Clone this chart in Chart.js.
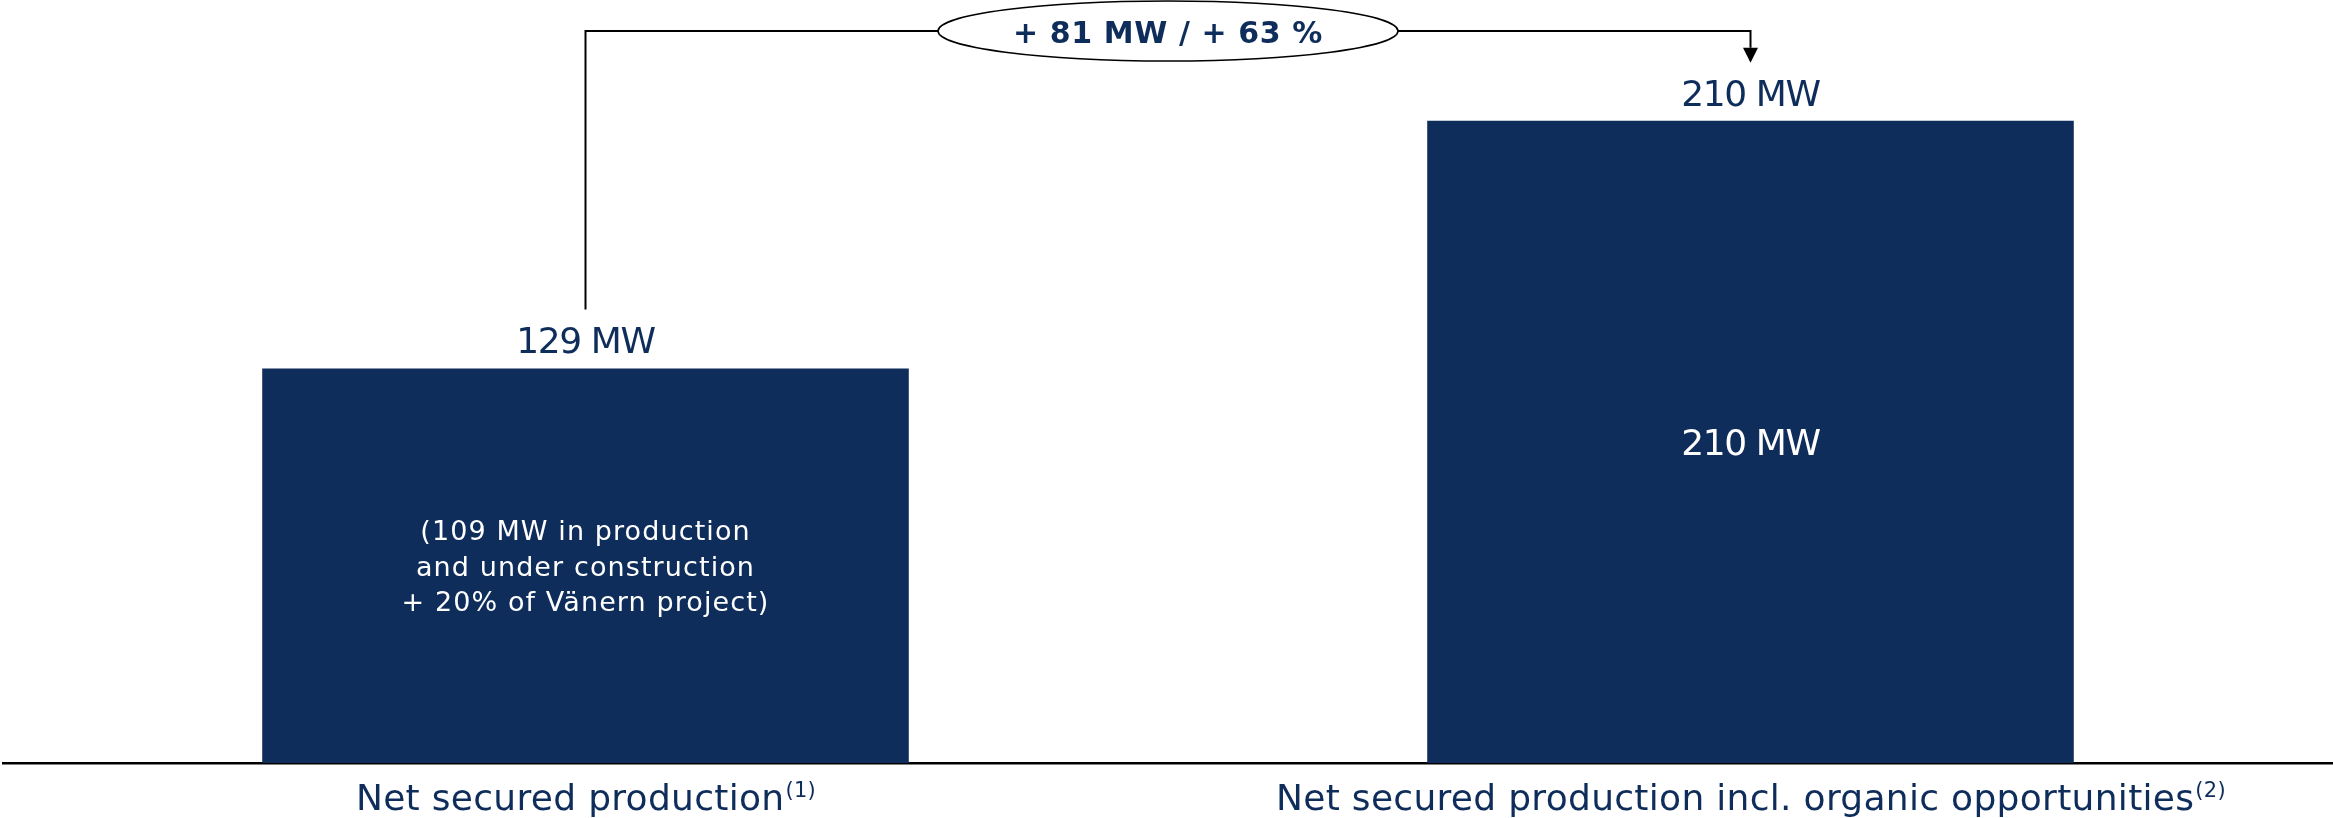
<!DOCTYPE html>
<html>
<head>
<meta charset="utf-8">
<script src="https://cdn.jsdelivr.net/npm/chart.js@4/dist/chart.umd.min.js"></script>
<style>
  html, body { margin: 0; padding: 0; background: #ffffff; }
  #wrap { width: 2333px; height: 818px; position: relative; }
</style>
</head>
<body>
<div id="wrap"><canvas id="c"></canvas></div>
<script>
const categories = ['Net secured production', 'Net secured production incl. organic opportunities'];
const footnotes = ['(1)', '(2)'];
const values = [129, 210];
const unit = 'MW';
const topLabels = ['129 MW', '210 MW'];
const innerLabels = [
  ['(109 MW in production', 'and under construction', '+ 20% of Vänern project)'],
  ['210 MW']
];

const NAVY = '#0f2d5b';
const FONT = '"DejaVu Sans", sans-serif';

const diffMW = values[1] - values[0];
const diffPct = Math.round(diffMW / values[0] * 100);
const changeLabel = '+ ' + diffMW + ' ' + unit + ' / + ' + diffPct + ' %';

const overlay = {
  id: 'overlay',
  afterDatasetsDraw(chart) {
    const ctx = chart.ctx;
    const meta = chart.getDatasetMeta(0);
    const xs = chart.scales.x;
    ctx.save();

    // category labels with superscript footnotes
    categories.forEach((cat, i) => {
      const cx = xs.getPixelForValue(i);
      ctx.letterSpacing = '0.3px';
      ctx.font = '36px ' + FONT;
      const wMain = ctx.measureText(cat).width;
      ctx.font = '21px ' + FONT;
      const wSup = ctx.measureText(footnotes[i]).width;
      const start = cx - (wMain + wSup) / 2;
      ctx.fillStyle = NAVY;
      ctx.textAlign = 'left';
      ctx.textBaseline = 'alphabetic';
      ctx.font = '36px ' + FONT;
      ctx.fillText(cat, start, 810);
      ctx.font = '21px ' + FONT;
      ctx.fillText(footnotes[i], start + wMain + 1, 797);
    });

    // value labels above bars and inner labels
    meta.data.forEach((bar, i) => {
      ctx.textAlign = 'center';
      ctx.textBaseline = 'alphabetic';
      ctx.fillStyle = NAVY;
      ctx.letterSpacing = '-1.4px';
      ctx.font = '36px ' + FONT;
      ctx.fillText(topLabels[i], bar.x, bar.y - 15);

      const lines = innerLabels[i];
      const cy = (bar.y + bar.base) / 2;
      ctx.fillStyle = '#ffffff';
      if (lines.length === 1) {
        ctx.letterSpacing = '-1.4px';
        ctx.font = '36px ' + FONT;
        ctx.fillText(lines[0], bar.x, cy + 13);
      } else {
        const lh = 35.5;
        ctx.letterSpacing = '1.1px';
        ctx.font = '27px ' + FONT;
        lines.forEach((ln, k) => {
          const y = cy - (lines.length - 1) / 2 * lh + 10 + k * lh;
          ctx.fillText(ln, bar.x, y);
        });
      }
    });

    // change bracket with ellipse and arrow
    const b0 = meta.data[0], b1 = meta.data[1];
    const x1 = b0.x, x2 = b1.x;
    const yLine = 31;
    const yStart = b0.y - 59;
    const tip = b1.y - 58;
    const ah = 15, aw = 7.5;
    ctx.strokeStyle = '#000000';
    ctx.lineWidth = 2;
    ctx.beginPath();
    ctx.moveTo(x1, yStart);
    ctx.lineTo(x1, yLine);
    ctx.lineTo(x2, yLine);
    ctx.lineTo(x2, tip - ah);
    ctx.stroke();
    ctx.fillStyle = '#000000';
    ctx.beginPath();
    ctx.moveTo(x2 - aw, tip - ah);
    ctx.lineTo(x2 + aw, tip - ah);
    ctx.lineTo(x2, tip);
    ctx.closePath();
    ctx.fill();

    const ex = (x1 + x2) / 2;
    ctx.beginPath();
    ctx.ellipse(ex, yLine, 230, 30, 0, 0, Math.PI * 2);
    ctx.fillStyle = '#ffffff';
    ctx.fill();
    ctx.lineWidth = 1.6;
    ctx.strokeStyle = '#000000';
    ctx.stroke();

    ctx.letterSpacing = '0.6px';
    ctx.font = 'bold 30px ' + FONT;
    ctx.fillStyle = NAVY;
    ctx.textAlign = 'center';
    ctx.textBaseline = 'alphabetic';
    ctx.fillText(changeLabel, ex, 43);

    ctx.restore();
  }
};

new Chart(document.getElementById('c'), {
  type: 'bar',
  data: {
    labels: categories,
    datasets: [{
      data: values,
      backgroundColor: NAVY,
      borderWidth: 0,
      barPercentage: 0.555,
      categoryPercentage: 1.0
    }]
  },
  options: {
    responsive: true,
    maintainAspectRatio: false,
    animation: false,
    layout: { padding: { top: 29, left: 3, right: 0, bottom: 0 } },
    plugins: { legend: { display: false }, tooltip: { enabled: false } },
    scales: {
      x: {
        grid: { display: false, drawTicks: false },
        border: { display: true, color: '#000000', width: 2.5 },
        ticks: { display: false },
        afterFit(scale) { scale.height = 55; }
      },
      y: {
        display: false,
        min: 0,
        max: 240
      }
    }
  },
  plugins: [overlay]
});
</script>
</body>
</html>
